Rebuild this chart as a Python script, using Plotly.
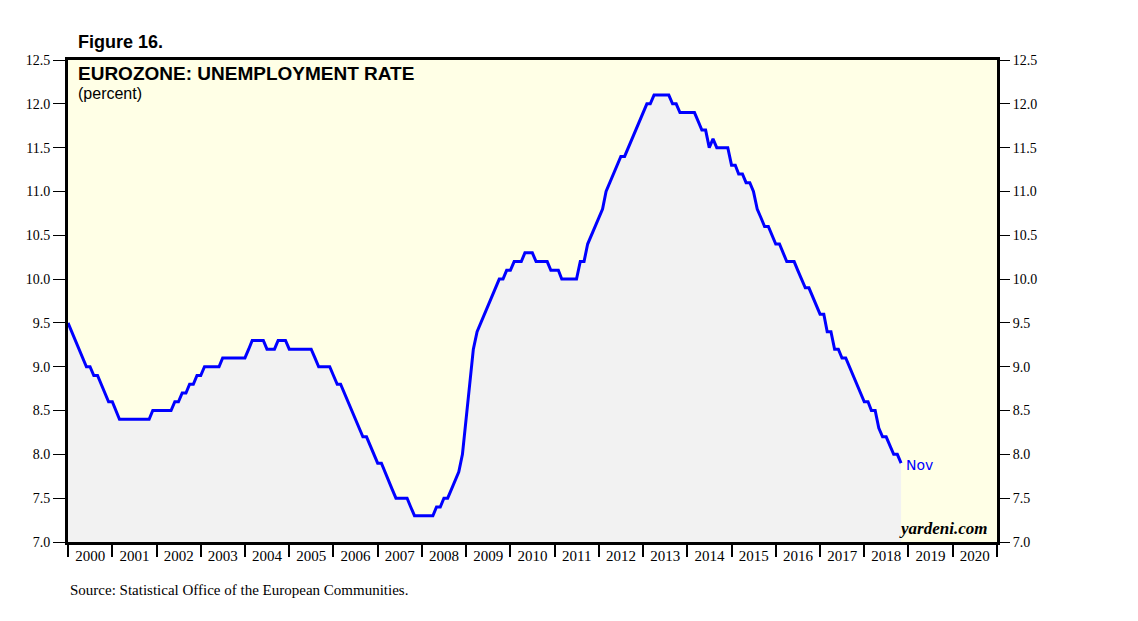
import plotly.graph_objects as go
import pandas as pd

# Monthly Eurozone unemployment rate (percent), Jan 2000 - Nov 2018
rate_2000 = [9.5, 9.4, 9.3, 9.2, 9.1, 9.0, 9.0, 8.9, 8.9, 8.8, 8.7, 8.6]
rate_2001 = [8.6, 8.5, 8.4, 8.4, 8.4, 8.4, 8.4, 8.4, 8.4, 8.4, 8.4, 8.5]
rate_2002 = [8.5, 8.5, 8.5, 8.5, 8.5, 8.6, 8.6, 8.7, 8.7, 8.8, 8.8, 8.9]
rate_2003 = [8.9, 9.0, 9.0, 9.0, 9.0, 9.0, 9.1, 9.1, 9.1, 9.1, 9.1, 9.1]
rate_2004 = [9.1, 9.2, 9.3, 9.3, 9.3, 9.3, 9.2, 9.2, 9.2, 9.3, 9.3, 9.3]
rate_2005 = [9.2, 9.2, 9.2, 9.2, 9.2, 9.2, 9.2, 9.1, 9.0, 9.0, 9.0, 9.0]
rate_2006 = [8.9, 8.8, 8.8, 8.7, 8.6, 8.5, 8.4, 8.3, 8.2, 8.2, 8.1, 8.0]
rate_2007 = [7.9, 7.9, 7.8, 7.7, 7.6, 7.5, 7.5, 7.5, 7.5, 7.4, 7.3, 7.3]
rate_2008 = [7.3, 7.3, 7.3, 7.3, 7.4, 7.4, 7.5, 7.5, 7.6, 7.7, 7.8, 8.0]
rate_2009 = [8.4, 8.8, 9.2, 9.4, 9.5, 9.6, 9.7, 9.8, 9.9, 10.0, 10.0, 10.1]
rate_2010 = [10.1, 10.2, 10.2, 10.2, 10.3, 10.3, 10.3, 10.2, 10.2, 10.2, 10.2, 10.1]
rate_2011 = [10.1, 10.1, 10.0, 10.0, 10.0, 10.0, 10.0, 10.2, 10.2, 10.4, 10.5, 10.6]
rate_2012 = [10.7, 10.8, 11.0, 11.1, 11.2, 11.3, 11.4, 11.4, 11.5, 11.6, 11.7, 11.8]
rate_2013 = [11.9, 12.0, 12.0, 12.1, 12.1, 12.1, 12.1, 12.1, 12.0, 12.0, 11.9, 11.9]
rate_2014 = [11.9, 11.9, 11.9, 11.8, 11.7, 11.7, 11.5, 11.6, 11.5, 11.5, 11.5, 11.5]
rate_2015 = [11.3, 11.3, 11.2, 11.2, 11.1, 11.1, 11.0, 10.8, 10.7, 10.6, 10.6, 10.5]
rate_2016 = [10.4, 10.4, 10.3, 10.2, 10.2, 10.2, 10.1, 10.0, 9.9, 9.9, 9.8, 9.7]
rate_2017 = [9.6, 9.6, 9.4, 9.4, 9.2, 9.2, 9.1, 9.1, 9.0, 8.9, 8.8, 8.7]
rate_2018 = [8.6, 8.6, 8.5, 8.5, 8.3, 8.2, 8.2, 8.1, 8.0, 8.0, 7.9]

rates = (rate_2000 + rate_2001 + rate_2002 + rate_2003 + rate_2004 + rate_2005 +
         rate_2006 + rate_2007 + rate_2008 + rate_2009 + rate_2010 + rate_2011 +
         rate_2012 + rate_2013 + rate_2014 + rate_2015 + rate_2016 + rate_2017 +
         rate_2018)
dates = pd.date_range("2000-01-01", periods=len(rates), freq="MS")

y_ticks = [7.0, 7.5, 8.0, 8.5, 9.0, 9.5, 10.0, 10.5, 11.0, 11.5, 12.0, 12.5]
y_tick_text = [f"{v:.1f}" for v in y_ticks]
last_label = "Nov"

serif = "Liberation Serif"
sans = "Liberation Sans"

fig = go.Figure()
fig.add_trace(go.Scatter(
    x=dates, y=rates, mode="lines",
    line=dict(color="#0000FF", width=3),
    fill="tozeroy", fillcolor="#F2F2F2",
    hoverinfo="skip", showlegend=False,
))
fig.add_trace(go.Scatter(
    x=dates[:1], y=rates[:1], mode="markers", yaxis="y2",
    marker=dict(opacity=0), hoverinfo="skip", showlegend=False,
))

fig.update_layout(
    width=1138, height=621,
    margin=dict(l=60, r=149, t=52, b=87),
    paper_bgcolor="white",
    plot_bgcolor="#FFFFE6",
    xaxis=dict(
        type="date",
        range=["2000-01-01", "2021-01-01"],
        tick0="2000-01-01", dtick="M12",
        ticklabelmode="period", tickformat="%Y",
        ticks="outside", ticklen=12, tickwidth=2, tickcolor="black",
        ticklabelstandoff=-14,
        showgrid=False, zeroline=False,
        showline=True, linecolor="black", linewidth=3, mirror=True,
        tickfont=dict(family=serif, size=15, color="black"),
    ),
    yaxis=dict(
        range=[7.0, 12.5], tickvals=y_ticks, ticktext=y_tick_text,
        ticks="outside", ticklen=12, tickwidth=1, tickcolor="black",
        showgrid=False, zeroline=False,
        showline=True, linecolor="black", linewidth=3, mirror=True,
        tickfont=dict(family=serif, size=14, color="black"),
    ),
    yaxis2=dict(
        range=[7.0, 12.5], tickvals=y_ticks, ticktext=y_tick_text,
        overlaying="y", side="right",
        ticks="outside", ticklen=12, tickwidth=1, tickcolor="black",
        showgrid=False, zeroline=False, showline=False,
        tickfont=dict(family=serif, size=14, color="black"),
    ),
    annotations=[
        dict(text="<b>Figure 16.</b>", xref="paper", yref="paper",
             x=0.009, y=1.012, xanchor="left", yanchor="bottom", showarrow=False,
             font=dict(family=sans, size=18, color="black")),
        dict(text="<b>EUROZONE: UNEMPLOYMENT RATE</b>", xref="paper", yref="paper",
             x=0.009, y=0.997, xanchor="left", yanchor="top", showarrow=False,
             font=dict(family=sans, size=19, color="black")),
        dict(text="(percent)", xref="paper", yref="paper",
             x=0.009, y=0.952, xanchor="left", yanchor="top", showarrow=False,
             font=dict(family=sans, size=16, color="black")),
        dict(text=last_label, x=dates[-1], y=rates[-1], xref="x", yref="y",
             xanchor="left", yanchor="middle", xshift=3, yshift=-2, showarrow=False,
             font=dict(family="DejaVu Sans", size=14, color="#0000FF")),
        dict(text="<b><i>yardeni.com</i></b>", xref="paper", yref="paper",
             x=0.991, y=0.005, xanchor="right", yanchor="bottom", showarrow=False,
             font=dict(family=serif, size=17, color="black")),
        dict(text="Source: Statistical Office of the European Communities.",
             xref="paper", yref="paper", x=0.0, y=-0.078, xanchor="left", yanchor="top",
             showarrow=False, font=dict(family=serif, size=15, color="black")),
    ],
)

fig.write_html("out.html")
